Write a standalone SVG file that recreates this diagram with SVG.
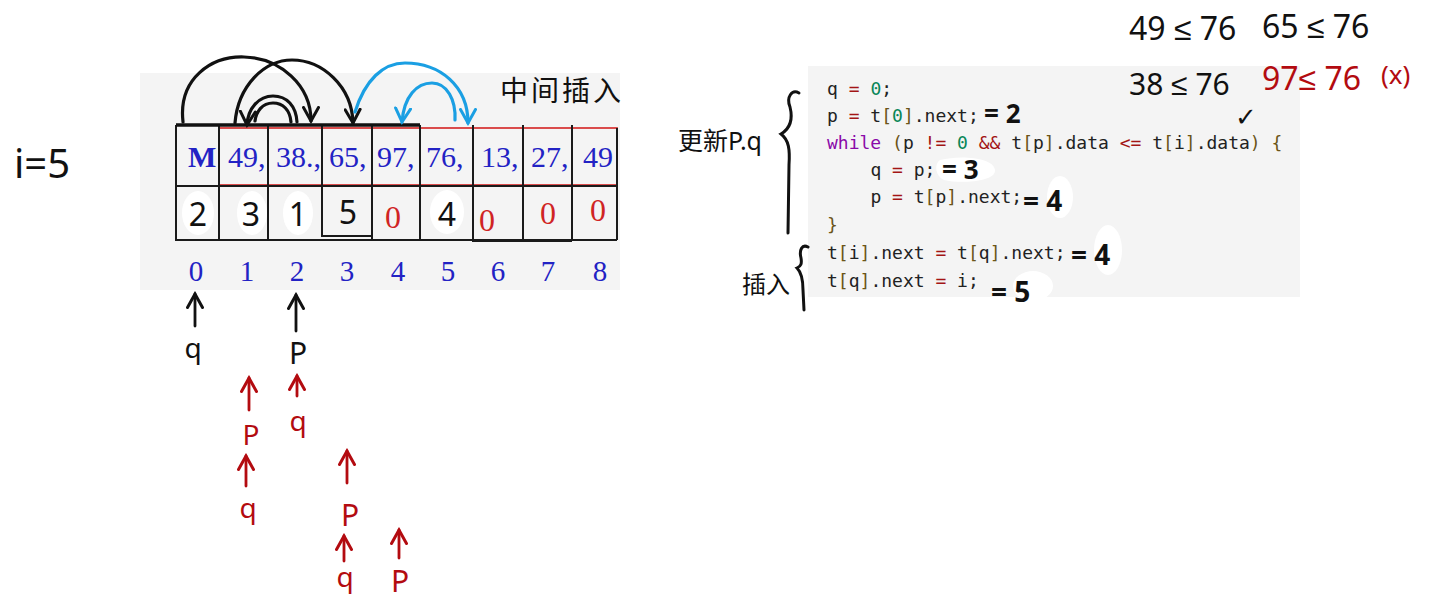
<svg xmlns="http://www.w3.org/2000/svg" width="1452" height="606" viewBox="0 0 1452 606">
<style>
.panel{fill:#f4f4f4}
.blob{fill:#ffffff}
.grid{stroke:#1a1a1a;stroke-width:2;fill:none}
.redl{stroke:#d83a3a;stroke-width:1.8;fill:none}
.data{font-family:"Liberation Serif",serif;font-size:30px;fill:#2222c4}
.idx{font-family:"Liberation Serif",serif;font-size:29px;fill:#2222c4;text-anchor:middle}
.hw{font-family:"Noto Sans","Liberation Sans",sans-serif;fill:#111}
.hwr{font-family:"Noto Sans","Liberation Sans",sans-serif;fill:#b30b10}
.r0{font-family:"Liberation Serif",serif;font-size:32px;fill:#d02424;text-anchor:middle}
.arcK{fill:none;stroke:#111;stroke-width:3.2;stroke-linecap:round}
.arcB{fill:none;stroke:#1a9fe3;stroke-width:3.2;stroke-linecap:round}
.ptrK{fill:none;stroke:#111;stroke-width:2.8;stroke-linecap:round}
.ptrR{fill:none;stroke:#b30b10;stroke-width:2.8;stroke-linecap:round}
.code{font-family:"DejaVu Sans Mono","Liberation Mono",monospace;font-size:18px;fill:#222}
.op{fill:#a31515}
.num{fill:#098658}
.kw{fill:#8a0aa8}
.br{fill:#6b5418}
.brace{fill:none;stroke:#111;stroke-width:3;stroke-linecap:round}
.cjk{font-family:"Noto Sans CJK SC","Noto Sans",sans-serif;fill:#111}
</style>
<defs>
<marker id="vK" viewBox="0 0 12 12" refX="10" refY="6" markerWidth="18" markerHeight="18" orient="auto" markerUnits="userSpaceOnUse">
<path d="M1,1 L10,6 L1,11" fill="none" stroke="#111" stroke-width="2" stroke-linecap="round"/>
</marker>
<marker id="vB" viewBox="0 0 12 12" refX="10" refY="6" markerWidth="18" markerHeight="18" orient="auto" markerUnits="userSpaceOnUse">
<path d="M1,1 L10,6 L1,11" fill="none" stroke="#1a9fe3" stroke-width="2" stroke-linecap="round"/>
</marker>
<marker id="vR" viewBox="0 0 12 12" refX="10" refY="6" markerWidth="18" markerHeight="18" orient="auto" markerUnits="userSpaceOnUse">
<path d="M1,1 L10,6 L1,11" fill="none" stroke="#b30b10" stroke-width="2" stroke-linecap="round"/>
</marker>
</defs>
<rect width="1452" height="606" fill="#ffffff"/>

<g id="table">
<rect class="panel" x="140" y="73" width="480" height="217"/>
<ellipse class="blob" cx="198" cy="213" rx="16" ry="22"/>
<ellipse class="blob" cx="252" cy="213" rx="15" ry="22"/>
<ellipse class="blob" cx="298" cy="213" rx="15" ry="22"/>
<ellipse class="blob" cx="447" cy="212" rx="17" ry="22"/>
<rect x="219" y="128" width="398" height="57" class="redl"/>
<path class="grid" d="M176,125 H420 M176,125 V240 H617 M176,186 H617 M219,125 V240 M268,125 V240 M322,125 V236 H372 M372,125 V240 M420,125 V240 M473,125 V241 H572 M523,125 V240 M572,125 V241 M617,128 V240"/>
<path d="M176,125 H420" stroke="#111" stroke-width="3.5"/>
<text class="data" x="188" y="167" font-weight="bold" font-size="26">M</text>
<text class="data" x="228" y="167">49,</text>
<text class="data" x="276" y="167">38.,</text>
<text class="data" x="329" y="167">65,</text>
<text class="data" x="377" y="167">97,</text>
<text class="data" x="426" y="167">76,</text>
<text class="data" x="481" y="167">13,</text>
<text class="data" x="531" y="167">27,</text>
<text class="data" x="583" y="167">49</text>
<text class="hw" x="198" y="226" font-size="32" text-anchor="middle">2</text>
<text class="hw" x="251" y="226" font-size="32" text-anchor="middle">3</text>
<text class="hw" x="298" y="226" font-size="32" text-anchor="middle">1</text>
<text class="hw" x="348" y="224" font-size="32" text-anchor="middle">5</text>
<text class="r0" x="393" y="228">0</text>
<text class="hw" x="447" y="226" font-size="32" text-anchor="middle">4</text>
<text class="r0" x="487" y="231">0</text>
<text class="r0" x="548" y="224">0</text>
<text class="r0" x="598" y="221">0</text>
<text class="idx" x="196" y="281">0</text>
<text class="idx" x="247" y="281">1</text>
<text class="idx" x="297" y="281">2</text>
<text class="idx" x="347" y="281">3</text>
<text class="idx" x="398" y="281">4</text>
<text class="idx" x="448" y="281">5</text>
<text class="idx" x="498" y="281">6</text>
<text class="idx" x="548" y="281">7</text>
<text class="idx" x="600" y="281">8</text>
</g>

<g id="connectors">
<path class="arcK" d="M183,122 C178,78 212,56 244,57 C280,58 311,85 311,121" marker-end="url(#vK)"/>
<path class="arcK" d="M235,123 C238,86 264,60 292,60 C322,60 352,86 353,123" marker-end="url(#vK)"/>
<path class="arcK" d="M297,122 C296,106 287,96 273,96 C259,96 248,108 247,125" marker-end="url(#vK)"/>
<path class="arcK" d="M291,122 C290,110 283,103 273,103 C262,103 256,112 255,121"/>
<path class="arcB" d="M355,112 C365,80 383,63 405,63 C440,63 468,86 468,123" marker-end="url(#vB)"/>
<path class="arcB" d="M455,120 C456,100 447,83 432,83 C417,83 404,96 402,122" marker-end="url(#vB)"/>
</g>

<g id="label-insert-mid">
<text class="cjk" x="500" y="101" font-size="28" letter-spacing="3">中间插入</text>
</g>

<g id="label-i">
<text class="hw" x="14" y="178" font-size="40">i=5</text>
</g>

<g id="pointer-q0">
<path class="ptrK" d="M195,326 V294" marker-end="url(#vK)"/>
<text class="hw" x="193" y="358" font-size="28" text-anchor="middle">q</text>
</g>
<g id="pointer-p2">
<path class="ptrK" d="M296,331 V295" marker-end="url(#vK)"/>
<text class="hw" x="298" y="364" font-size="30" text-anchor="middle">P</text>
</g>
<g id="pointer-red">
<path class="ptrR" d="M249,410 V378" marker-end="url(#vR)"/>
<text class="hwr" x="251" y="445" font-size="28" text-anchor="middle">P</text>
<path class="ptrR" d="M246,486 V456" marker-end="url(#vR)"/>
<text class="hwr" x="248" y="518" font-size="28" text-anchor="middle">q</text>
<path class="ptrR" d="M297,396 V376" marker-end="url(#vR)"/>
<text class="hwr" x="298" y="431" font-size="28" text-anchor="middle">q</text>
<path class="ptrR" d="M347,483 V451" marker-end="url(#vR)"/>
<text class="hwr" x="350" y="526" font-size="30" text-anchor="middle">P</text>
<path class="ptrR" d="M344,561 V536" marker-end="url(#vR)"/>
<text class="hwr" x="345" y="587" font-size="28" text-anchor="middle">q</text>
<path class="ptrR" d="M399,558 V530" marker-end="url(#vR)"/>
<text class="hwr" x="400" y="592" font-size="30" text-anchor="middle">P</text>
</g>

<g id="code">
<rect class="panel" x="808" y="66" width="492" height="231"/>
<path class="blob" d="M940,160 C960,155 993,157 995,170 C996,182 960,184 944,180 C935,176 934,164 940,160 Z"/>
<ellipse class="blob" cx="1060" cy="197" rx="13" ry="21"/>
<ellipse class="blob" cx="1108" cy="250" rx="14" ry="25"/>
<ellipse class="blob" cx="1033" cy="286" rx="20" ry="15"/>
<text class="code" x="827" y="95">q <tspan class="op">=</tspan> <tspan class="num">0</tspan>;</text>
<text class="code" x="827" y="121.5">p <tspan class="op">=</tspan> t<tspan class="br">[</tspan><tspan class="num">0</tspan><tspan class="br">]</tspan>.next;</text>
<text class="code" x="827" y="148.5"><tspan class="kw">while</tspan> <tspan class="br">(</tspan>p <tspan class="op">!=</tspan> <tspan class="num">0</tspan> <tspan class="op">&amp;&amp;</tspan> t<tspan class="br">[</tspan>p<tspan class="br">]</tspan>.data <tspan class="op">&lt;=</tspan> t<tspan class="br">[</tspan>i<tspan class="br">]</tspan>.data<tspan class="br">)</tspan> <tspan class="br">{</tspan></text>
<text class="code" x="870.4" y="176">q <tspan class="op">=</tspan> p;</text>
<text class="code" x="870.4" y="203">p <tspan class="op">=</tspan> t<tspan class="br">[</tspan>p<tspan class="br">]</tspan>.next;</text>
<text class="code" x="827" y="231"><tspan class="br">}</tspan></text>
<text class="code" x="827" y="259">t<tspan class="br">[</tspan>i<tspan class="br">]</tspan>.next <tspan class="op">=</tspan> t<tspan class="br">[</tspan>q<tspan class="br">]</tspan>.next;</text>
<text class="code" x="827" y="287">t<tspan class="br">[</tspan>q<tspan class="br">]</tspan>.next <tspan class="op">=</tspan> i;</text>
</g>

<g id="code-annotations">
<text class="hw" x="984" y="123" font-size="26" font-weight="bold">= 2</text>
<text class="hw" x="942" y="179" font-size="26" font-weight="bold">= 3</text>
<text class="hw" x="1023" y="211" font-size="28" font-weight="bold">= 4</text>
<text class="hw" x="1071" y="265" font-size="28" font-weight="bold">= 4</text>
<text class="hw" x="991" y="302" font-size="28" font-weight="bold">= 5</text>
<text class="hw" x="1235" y="126" font-size="26">✓</text>
</g>

<g id="compare-notes">
<text class="hw" x="1129" y="40" font-size="32">49 ≤ 76</text>
<text class="hw" x="1262" y="38" font-size="32">65 ≤ 76</text>
<text class="hw" x="1129" y="95" font-size="30">38 ≤ 76</text>
<text class="hwr" x="1262" y="90" font-size="32">97≤ 76</text>
<text class="hwr" x="1381" y="84" font-size="26">(x)</text>
</g>

<g id="brace-update">
<path class="brace" d="M799,93 C792,89 786,97 790,107 C793,119 791,128 781,134 C789,140 790,150 789,165 L788,233"/>
<text class="cjk" x="678" y="150" font-size="25">更新<tspan font-family="Noto Sans,sans-serif">P.q</tspan></text>
</g>
<g id="brace-insert">
<path class="brace" d="M808,247 C802,244 799,250 801,258 C802,264 801,266 797,268 C801,272 803,280 803,290 L804,310"/>
<text class="cjk" x="742" y="293" font-size="24">插入</text>
</g>
</svg>
